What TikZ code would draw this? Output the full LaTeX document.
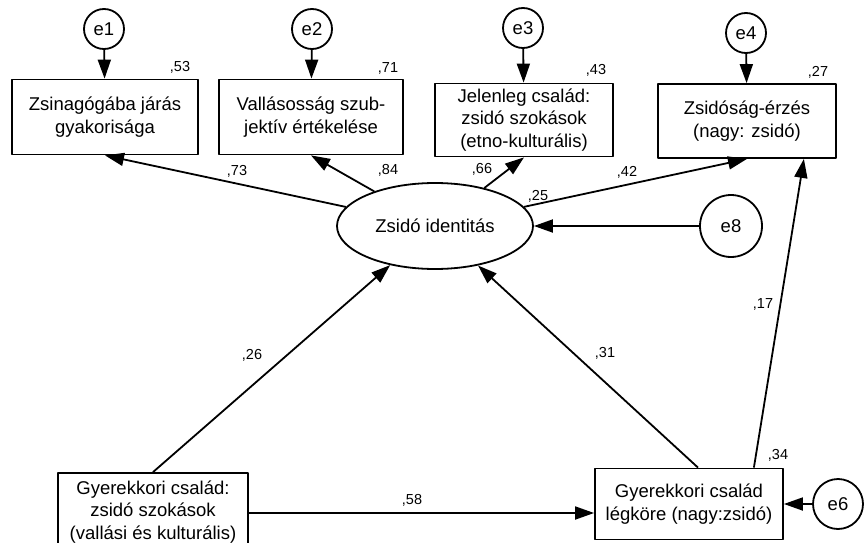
\documentclass[tikz,border=0pt]{standalone}
\usepackage{fontspec}
\setmainfont{Liberation Sans}
\usetikzlibrary{arrows.meta,shapes.geometric}
\tikzset{
  var/.style={draw,line width=1.8pt,align=center,inner sep=0pt,font=\fontsize{18.5}{22.5}\selectfont},
  err/.style={draw,circle,line width=1.8pt,inner sep=0pt,font=\fontsize{18.5}{22}\selectfont},
  coef/.style={inner sep=0pt,font=\fontsize{14.5}{16}\selectfont},
  path/.style={line width=1.8pt,-{Triangle[length=19pt,width=13pt]}}
}
\begin{document}
\begin{tikzpicture}[x=1pt,y=-1pt,line join=round]
\useasboundingbox (0,0) rectangle (868,543);
% megfigyelt valtozok
\node[var,minimum width=186,minimum height=75] (zsin) at (105,117) {Zsinagógába járás\\gyakorisága};
\node[var,minimum width=184,minimum height=75] (vall) at (311,117) {Vallásosság szub-\\jektív értékelése};
\node[var,minimum width=178,minimum height=73] (jel) at (524,120) {Jelenleg család:\\zsidó szokások\\(etno-kulturális)};
\node[var,minimum width=178,minimum height=74] (erz) at (747,121) {Zsidóság-érzés\\(nagy: zsidó)};
\node[var,minimum width=190,minimum height=78] (gyszok) at (153,512) {Gyerekkori család:\\zsidó szokások\\(vallási és kulturális)};
\node[var,minimum width=188,minimum height=71] (gylegk) at (689,504) {Gyerekkori család\\légköre (nagy:zsidó)};
% latens valtozo
\node[draw,ellipse,line width=1.8pt,minimum width=196,minimum height=86,inner sep=0pt,font=\fontsize{18.5}{22}\selectfont] (ident) at (435,226) {Zsidó identitás};
% hibatagok
\node[err,minimum size=40] (e1) at (104,29) {e1};
\node[err,minimum size=40] (e2) at (312,29) {e2};
\node[err,minimum size=40] (e3) at (523,28) {e3};
\node[err,minimum size=40] (e4) at (746,33) {e4};
\node[err,minimum size=62] (e8) at (731,226) {e8};
\node[err,minimum size=50] (e6) at (838,504) {e6};
% nyilak
\draw[path] (e1) -- (zsin);
\draw[path] (e2) -- (vall);
\draw[path] (e3) -- (jel);
\draw[path] (e4) -- (erz);
\draw[path] (e8) -- (ident);
\draw[path] (e6) -- (gylegk);
\draw[path] (ident) -- (zsin.south);
\draw[path] (ident) -- (vall.south);
\draw[path] (ident) -- (jel.south);
\draw[path] (ident) -- (erz.south);
\draw[path] (gyszok.north) -- (ident);
\draw[path] ([xshift=9]gylegk.north) -- (ident);
\draw[path] (gyszok.east |- gylegk.center) ++(0,9) coordinate (p5) (p5) -- (gylegk.west |- p5);
\draw[path] ([xshift=-30]gylegk.north east) -- ([xshift=-33]erz.south east);
% egyutthatok
\node[coef] (r1) at (180,67) {,53};
\node[coef] (r2) at (388,68) {,71};
\node[coef] (r3) at (596,70) {,43};
\node[coef] (r4) at (818,72) {,27};
\node[coef] (r6) at (778,455) {,34};
\node[coef] (l1) at (237,171) {,73};
\node[coef] (l2) at (388,170) {,84};
\node[coef] (l3) at (482,169) {,66};
\node[coef] (l4) at (627,172) {,42};
\node[coef] (ri) at (538,196) {,25};
\node[coef] (g1) at (252,355) {,26};
\node[coef] (g2) at (605,353) {,31};
\node[coef] (g3) at (412,500) {,58};
\node[coef] (g4) at (763,304) {,17};
\end{tikzpicture}
\end{document}
